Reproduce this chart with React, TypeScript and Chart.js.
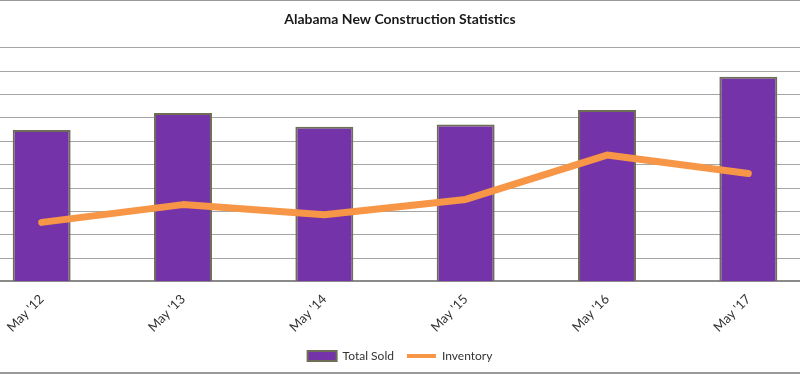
import React, { useEffect, useRef } from "react";
import { Chart, registerables } from "chart.js";

Chart.register(...registerables);

const categories = ["May '12", "May '13", "May '14", "May '15", "May '16", "May '17"];
const totalSold = [648, 721, 662, 672, 734, 876];
const inventory = [253, 329, 286, 351, 541, 462];
const yTicksMax = 1000;
const yStep = 100;

export default function App() {
  const ref = useRef<HTMLCanvasElement | null>(null);

  useEffect(() => {
    if (!ref.current) return;
    const chart = new Chart(ref.current, {
      type: "bar",
      data: {
        labels: categories,
        datasets: [
          {
            type: "line",
            label: "Inventory",
            data: inventory,
            borderColor: "#F79646",
            backgroundColor: "#F79646",
            borderWidth: 7,
            pointRadius: 0,
            borderCapStyle: "round",
            borderJoinStyle: "round",
            tension: 0,
            order: 0,
          },
          {
            type: "bar",
            label: "Total Sold",
            data: totalSold,
            backgroundColor: "#7433A8",
            borderColor: "#6E6E55",
            borderWidth: 2,
            categoryPercentage: 1,
            barPercentage: 0.41,
            order: 1,
          },
        ],
      },
      options: {
        responsive: false,
        animation: false,
        layout: { padding: { left: 0, right: 0, top: 0, bottom: 2 } },
        scales: {
          x: {
            grid: { display: false },
            border: { color: "#8A8A8A", width: 2 },
            ticks: {
              maxRotation: 45,
              minRotation: 45,
              color: "#333",
              font: { family: "Lato", size: 13 },
              padding: 2,
            },
          },
          y: {
            position: "right",
            min: 0,
            max: yTicksMax,
            ticks: { display: false, stepSize: yStep },
            grid: { color: "#A6A6A6", lineWidth: 1, drawTicks: false },
            border: { display: false },
            afterFit: (s: any) => {
              s.width = 10;
            },
          },
        },
        plugins: {
          title: {
            display: true,
            text: "Alabama New Construction Statistics",
            color: "#1a1a1a",
            font: { family: "Lato", size: 14, weight: "bold" },
            padding: { top: 11, bottom: 20 },
          },
          legend: {
            position: "bottom",
            reverse: true,
            labels: {
              boxWidth: 29,
              boxHeight: 10,
              padding: 13,
              color: "#333",
              font: { family: "Lato", size: 12 },
              usePointStyle: true,
              pointStyleWidth: 29,
              generateLabels: (c: any) => {
                const items = Chart.defaults.plugins.legend.labels.generateLabels(c);
                return items.map((it: any) => {
                  if (it.text === "Inventory") {
                    return { ...it, pointStyle: "line", lineWidth: 4, strokeStyle: "#F79646" };
                  }
                  return { ...it, pointStyle: "rect", lineWidth: 2 };
                });
              },
            },
          },
          tooltip: { enabled: false },
        },
      },
    });
    return () => chart.destroy();
  }, []);

  return (
    <div
      style={{
        position: "absolute",
        left: 0,
        top: 0,
        width: 800,
        height: 374,
        overflow: "hidden",
        background: "#fff",
      }}
    >
      <div style={{ position: "absolute", left: -29, top: 0 }}>
        <canvas ref={ref} width={858} height={374} />
      </div>
      <div style={{ position: "absolute", left: 0, top: 0, width: 800, height: 1, background: "#9a9a9a" }} />
      <div style={{ position: "absolute", left: 0, top: 372, width: 800, height: 2, background: "#9a9a9a" }} />
    </div>
  );
}
